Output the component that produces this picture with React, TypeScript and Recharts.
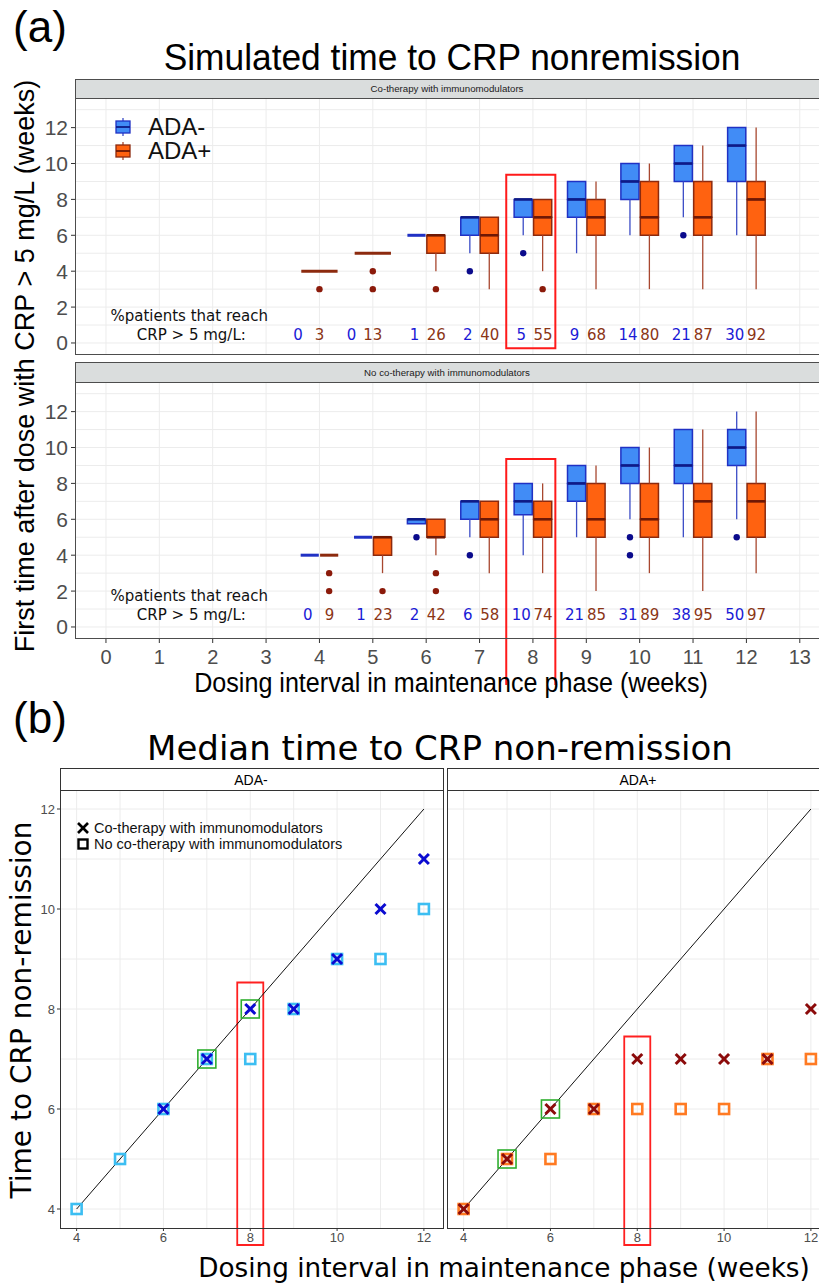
import React from 'react';
import { ComposedChart, XAxis, YAxis, CartesianGrid, ReferenceArea, ReferenceLine, Scatter } from 'recharts';

const SANS = "'Liberation Sans', Arial, sans-serif";
const VERD = "'DejaVu Sans', Verdana, sans-serif";

// ---------------- (a) data ----------------
const doses = [4, 5, 6, 7, 8, 9, 10, 11, 12];
const xTicksA = [0, 1, 2, 3, 4, 5, 6, 7, 8, 9, 10, 11, 12, 13];
const yTicksA = [0, 2, 4, 6, 8, 10, 12];
const yGridA = [0, 1, 2, 3, 4, 5, 6, 7, 8, 9, 10, 11, 12, 13];

// box statistics per dosing interval (weeks)
const coNegBoxes = [
  { d: 6, lo: 6, q1: 6, med: 6, q3: 6, hi: 6 },
  { d: 7, lo: 5, q1: 6, med: 7, q3: 7, hi: 7 },
  { d: 8, lo: 6, q1: 7, med: 8, q3: 8, hi: 8 },
  { d: 9, lo: 5, q1: 7, med: 8, q3: 9, hi: 9 },
  { d: 10, lo: 6, q1: 8, med: 9, q3: 10, hi: 10 },
  { d: 11, lo: 7, q1: 9, med: 10, q3: 11, hi: 11 },
  { d: 12, lo: 6, q1: 9, med: 11, q3: 12, hi: 12 },
];
const coPosBoxes = [
  { d: 4, lo: 4, q1: 4, med: 4, q3: 4, hi: 4 },
  { d: 5, lo: 5, q1: 5, med: 5, q3: 5, hi: 5 },
  { d: 6, lo: 4, q1: 5, med: 6, q3: 6, hi: 6 },
  { d: 7, lo: 3, q1: 5, med: 6, q3: 7, hi: 7 },
  { d: 8, lo: 4, q1: 6, med: 7, q3: 8, hi: 8 },
  { d: 9, lo: 3, q1: 6, med: 7, q3: 8, hi: 9 },
  { d: 10, lo: 3, q1: 6, med: 7, q3: 9, hi: 10 },
  { d: 11, lo: 3, q1: 6, med: 7, q3: 9, hi: 11 },
  { d: 12, lo: 3, q1: 6, med: 8, q3: 9, hi: 12 },
];
const noNegBoxes = [
  { d: 4, lo: 4, q1: 4, med: 4, q3: 4, hi: 4 },
  { d: 5, lo: 5, q1: 5, med: 5, q3: 5, hi: 5 },
  { d: 6, lo: 5.75, q1: 5.75, med: 6, q3: 6, hi: 6 },
  { d: 7, lo: 5, q1: 6, med: 7, q3: 7, hi: 7 },
  { d: 8, lo: 4, q1: 6.25, med: 7, q3: 8, hi: 8 },
  { d: 9, lo: 5, q1: 7, med: 8, q3: 9, hi: 9 },
  { d: 10, lo: 6, q1: 8, med: 9, q3: 10, hi: 10 },
  { d: 11, lo: 5, q1: 8, med: 9, q3: 11, hi: 11 },
  { d: 12, lo: 6, q1: 9, med: 10, q3: 11, hi: 12 },
];
const noPosBoxes = [
  { d: 4, lo: 4, q1: 4, med: 4, q3: 4, hi: 4 },
  { d: 5, lo: 3, q1: 4, med: 5, q3: 5, hi: 5 },
  { d: 6, lo: 4, q1: 5, med: 5, q3: 6, hi: 6 },
  { d: 7, lo: 3, q1: 5, med: 6, q3: 7, hi: 7 },
  { d: 8, lo: 3, q1: 5, med: 6, q3: 7, hi: 8 },
  { d: 9, lo: 2, q1: 5, med: 6, q3: 8, hi: 9 },
  { d: 10, lo: 3, q1: 5, med: 6, q3: 8, hi: 10 },
  { d: 11, lo: 2, q1: 5, med: 7, q3: 8, hi: 11 },
  { d: 12, lo: 3, q1: 5, med: 7, q3: 8, hi: 12 },
];
const coNegOutliers = [{ d: 7, v: 4 }, { d: 8, v: 5 }, { d: 11, v: 6 }];
const coPosOutliers = [{ d: 4, v: 3 }, { d: 5, v: 4 }, { d: 5, v: 3 }, { d: 6, v: 3 }, { d: 8, v: 3 }];
const noNegOutliers = [{ d: 6, v: 5 }, { d: 7, v: 4 }, { d: 10, v: 5 }, { d: 10, v: 4 }, { d: 12, v: 5 }];
const noPosOutliers = [{ d: 4, v: 3 }, { d: 4, v: 2 }, { d: 5, v: 2 }, { d: 6, v: 3 }, { d: 6, v: 2 }];

const coNegPct = [0, 0, 1, 2, 5, 9, 14, 21, 30];
const coPosPct = [3, 13, 26, 40, 55, 68, 80, 87, 92];
const noNegPct = [0, 1, 2, 6, 10, 21, 31, 38, 50];
const noPosPct = [9, 23, 42, 58, 74, 85, 89, 95, 97];

// ---------------- (b) data ----------------
const bDoses = [4, 5, 6, 7, 8, 9, 10, 11, 12];
const bTicks = [4, 6, 8, 10, 12];
const bGrid = [4, 5, 6, 7, 8, 9, 10, 11, 12];
const negCoMedian = [null, null, 6, 7, 8, 8, 9, 10, 11];
const negNoMedian = [4, 5, 6, 7, 7, 8, 9, 9, 10];
const posCoMedian = [4, 5, 6, 6, 7, 7, 7, 7, 8];
const posNoMedian = [4, 5, 5, 6, 6, 6, 6, 7, 7];
const negHighlighted = [7, 8];
const posHighlighted = [5, 6];
const focusDose = 8;

// ---------------- styles ----------------
const BLUE = { fill: '#418cf6', stroke: '#2031c4', median: '#0e1a86', whisker: '#3b4cc6', dot: '#0b0b8c', text: '#1a1ad6' };
const RED = { fill: '#ff6210', stroke: '#8c2a0e', median: '#6e1805', whisker: '#a8472f', dot: '#8b1a0a', text: '#8b3516' };
const A_X: [number, number] = [-0.58, 13.36];
const A_Y: [number, number] = [-0.67, 13.65];
const B_X: [number, number] = [3.617, 12.44];
const B_Y: [number, number] = [3.62, 12.38];
const BOX_W = 0.34;
const GAP = 0.012;

function boxSpan(d: number, side: number, solo: boolean): [number, number] {
  if (solo) return [d - BOX_W, d + BOX_W];
  return side < 0 ? [d - GAP - BOX_W, d - GAP] : [d + GAP, d + GAP + BOX_W];
}

function buildBoxes(boxes: any[], others: any[], side: number, col: any, key: string) {
  const areas: any[] = [];
  const lines: any[] = [];
  boxes.forEach((b) => {
    const solo = !others.some((o) => o.d === b.d);
    const [x1, x2] = boxSpan(b.d, side, solo);
    const xc = (x1 + x2) / 2;
    const k = `${key}-${b.d}`;
    if (b.lo < b.q1)
      lines.push(<ReferenceLine key={k + 'wl'} segment={[{ x: xc, y: b.lo }, { x: xc, y: b.q1 }]} stroke={col.whisker} strokeWidth={1.3} />);
    if (b.hi > b.q3)
      lines.push(<ReferenceLine key={k + 'wh'} segment={[{ x: xc, y: b.q3 }, { x: xc, y: b.hi }]} stroke={col.whisker} strokeWidth={1.3} />);
    if (b.med > b.q1)
      areas.push(<ReferenceArea key={k + 'a1'} x1={x1} x2={x2} y1={b.q1} y2={b.med} fill={col.fill} fillOpacity={1} stroke={col.stroke} strokeWidth={1.5} />);
    if (b.q3 > b.med)
      areas.push(<ReferenceArea key={k + 'a2'} x1={x1} x2={x2} y1={b.med} y2={b.q3} fill={col.fill} fillOpacity={1} stroke={col.stroke} strokeWidth={1.5} />);
    const flat = b.q3 === b.q1;
    lines.push(
      <ReferenceLine key={k + 'm'} segment={[{ x: x1, y: b.med }, { x: x2, y: b.med }]} stroke={flat ? col.stroke : col.median} strokeWidth={flat ? 3 : 2.6} />
    );
  });
  return { areas, lines };
}

function outlierData(out: any[], others: any[], side: number) {
  return out.map((o) => {
    const solo = !others.some((b) => b.d === o.d);
    const [x1, x2] = boxSpan(o.d, side, solo);
    return { x: (x1 + x2) / 2, y: o.v };
  });
}

const dotShape = (color: string) => (p: any) => <circle cx={p.cx} cy={p.cy} r={3.2} fill={color} />;
const textShape = (color: string, size: number) => (p: any) => (
  <text x={p.cx} y={p.cy} textAnchor="middle" dominantBaseline="central" fontFamily={VERD} fontSize={size} fill={color}>
    {p.payload.t}
  </text>
);

function BoxPanel(props: any) {
  const { negBoxes, posBoxes, negOut, posOut, negPct, posPct, pctY, noteY, hl, showX } = props;
  const PANEL_H = 257;
  const chartH = PANEL_H + (showX ? 46 : 0);
  const neg = buildBoxes(negBoxes, posBoxes, -1, BLUE, 'n');
  const pos = buildBoxes(posBoxes, negBoxes, 1, RED, 'p');
  const hasNeg = (d: number) => negBoxes.some((b: any) => b.d === d);
  const negLabels = doses.map((d, i) => ({ x: hasNeg(d) ? d - 0.22 : d - 0.4, y: pctY, t: negPct[i] }));
  const posLabels = doses.map((d, i) => ({ x: hasNeg(d) ? d + 0.19 : d, y: pctY, t: posPct[i] }));
  const noteData = [
    { x: 1.56, y: noteY[0], t: '%patients that reach' },
    { x: 1.6, y: noteY[1], t: 'CRP > 5 mg/L:' },
  ];
  const tickStyle = { fontSize: 20, fontFamily: SANS, fill: '#4d4d4d' };
  return (
    <ComposedChart width={819} height={chartH} margin={{ top: 0, right: 0, bottom: 0, left: 0 }}>
      <CartesianGrid stroke="#ececec" strokeWidth={1} verticalValues={xTicksA} horizontalValues={yGridA} />
      <XAxis type="number" dataKey="x" domain={A_X} ticks={xTicksA} allowDataOverflow interval={0} hide={!showX}
        height={46} tick={tickStyle} tickSize={4} tickMargin={7} tickLine={{ stroke: '#333' }} axisLine={false} />
      <YAxis type="number" dataKey="y" domain={A_Y} ticks={yTicksA} allowDataOverflow interval={0} width={75}
        tick={{ ...tickStyle, fontSize: 21 }} tickSize={4} tickMargin={3} tickLine={{ stroke: '#333' }} axisLine={false} />
      {neg.areas}
      {pos.areas}
      {neg.lines}
      {pos.lines}
      <ReferenceArea x1={7.5} x2={8.42} y1={hl[0]} y2={hl[1]} fill="none" fillOpacity={0} stroke="#ff1a1a" strokeWidth={2} ifOverflow="visible" />
      <Scatter data={outlierData(negOut, posBoxes, -1)} dataKey="y" isAnimationActive={false} shape={dotShape(BLUE.dot)} />
      <Scatter data={outlierData(posOut, negBoxes, 1)} dataKey="y" isAnimationActive={false} shape={dotShape(RED.dot)} />
      <Scatter data={negLabels} dataKey="y" isAnimationActive={false} shape={textShape(BLUE.text, 15)} />
      <Scatter data={posLabels} dataKey="y" isAnimationActive={false} shape={textShape(RED.text, 15)} />
      <Scatter data={noteData} dataKey="y" isAnimationActive={false} shape={textShape('#111', 15)} />
    </ComposedChart>
  );
}

const crossShape = (color: string) => (p: any) => (
  <g stroke={color} strokeWidth={3}>
    <line x1={p.cx - 5} y1={p.cy - 5} x2={p.cx + 5} y2={p.cy + 5} />
    <line x1={p.cx - 5} y1={p.cy + 5} x2={p.cx + 5} y2={p.cy - 5} />
  </g>
);
const squareShape = (color: string) => (p: any) => (
  <rect x={p.cx - 5} y={p.cy - 5} width={10} height={10} fill="none" stroke={color} strokeWidth={2.6} />
);
const greenShape = (p: any) => (
  <rect x={p.cx - 9} y={p.cy - 9} width={18} height={18} fill="none" stroke="#2fae2f" strokeWidth={1.6} />
);

function MedianPanel(props: any) {
  const { showY, coMed, noMed, coColor, noColor, highlighted, hlTop } = props;
  const plotW = 383;
  const yW = showY ? 60 : 0;
  const coData = bDoses.map((d, i) => ({ x: d, y: coMed[i] })).filter((r) => r.y !== null);
  const noData = bDoses.map((d, i) => ({ x: d, y: noMed[i] }));
  const hlData = highlighted.map((d: number) => ({ x: d, y: coMed[bDoses.indexOf(d)] }));
  const tickStyle = { fontSize: 13, fontFamily: SANS, fill: '#4d4d4d' };
  return (
    <ComposedChart width={plotW + yW} height={438 + 26} margin={{ top: 0, right: 0, bottom: 0, left: 0 }}>
      <CartesianGrid stroke="#ececec" strokeWidth={1} verticalValues={bGrid} horizontalValues={bGrid} />
      <XAxis type="number" dataKey="x" domain={B_X} ticks={bTicks} allowDataOverflow interval={0} height={26}
        tick={tickStyle} tickSize={3} tickMargin={2} tickLine={{ stroke: '#333' }} axisLine={false} />
      <YAxis type="number" dataKey="y" domain={B_Y} ticks={bTicks} allowDataOverflow interval={0} width={60} hide={!showY}
        tick={tickStyle} tickSize={3} tickMargin={2} tickLine={{ stroke: '#333' }} axisLine={false} />
      <ReferenceLine segment={[{ x: 4, y: 4 }, { x: 12, y: 12 }]} stroke="#111" strokeWidth={1} />
      <ReferenceArea x1={focusDose - 0.3} x2={focusDose + 0.3} y1={3.28} y2={hlTop} fill="none" fillOpacity={0}
        stroke="#ff2020" strokeWidth={1.8} ifOverflow="visible" />
      <Scatter data={noData} dataKey="y" isAnimationActive={false} shape={squareShape(noColor)} />
      <Scatter data={coData} dataKey="y" isAnimationActive={false} shape={crossShape(coColor)} />
      <Scatter data={hlData} dataKey="y" isAnimationActive={false} shape={greenShape} />
    </ComposedChart>
  );
}

function Txt(props: any) {
  const { x, y, size, family, rotate, sx, color, children, weight } = props;
  const tr = `translate(-50%,-50%)${rotate ? ' rotate(-90deg)' : ''}${sx ? ` scaleX(${sx})` : ''}`;
  return (
    <div style={{ position: 'absolute', left: x, top: y, transform: tr, fontSize: size, fontFamily: family, whiteSpace: 'nowrap', lineHeight: 1, color: color || '#000', fontWeight: weight || 'normal' }}>
      {children}
    </div>
  );
}

function Box(props: any) {
  const { left, top, width, height, bg, border } = props;
  return (
    <div style={{ position: 'absolute', left, top, width, height, boxSizing: 'border-box', background: bg || 'transparent', border: `1px solid ${border || '#4d4d4d'}`, pointerEvents: 'none' }} />
  );
}

function LegendA() {
  const icon = (c: any, y: number) => (
    <g>
      <line x1={8} x2={8} y1={y - 9} y2={y + 9} stroke={c.whisker} strokeWidth={1.3} />
      <rect x={1} y={y - 6} width={14} height={12} fill={c.fill} stroke={c.stroke} strokeWidth={1.3} />
      <line x1={1} x2={15} y1={y} y2={y} stroke={c.median} strokeWidth={1.8} />
    </g>
  );
  const lab = (t: string, top: number) => (
    <div style={{ position: 'absolute', left: 33, top, height: 24, fontFamily: SANS, fontSize: 24, lineHeight: '24px', color: '#111', whiteSpace: 'nowrap' }}>{t}</div>
  );
  return (
    <div style={{ position: 'absolute', left: 115, top: 115 }}>
      <svg width={20} height={52} style={{ position: 'absolute', left: 0, top: 0 }}>
        {icon(BLUE, 12)}
        {icon(RED, 36)}
      </svg>
      {lab('ADA-', 0)}
      {lab('ADA+', 24)}
    </div>
  );
}

function LegendB() {
  const lab = (t: string, top: number) => (
    <div style={{ position: 'absolute', left: 18, top, height: 16, fontFamily: SANS, fontSize: 14.5, lineHeight: '16px', color: '#111', whiteSpace: 'nowrap' }}>{t}</div>
  );
  return (
    <div style={{ position: 'absolute', left: 76, top: 819 }}>
      <svg width={20} height={36} style={{ position: 'absolute', left: 0, top: 0 }}>
        <g stroke="#000" strokeWidth={2.6}>
          <line x1={2} y1={4} x2={12} y2={14} />
          <line x1={2} y1={14} x2={12} y2={4} />
        </g>
        <rect x={2.5} y={20.5} width={9} height={9} fill="none" stroke="#000" strokeWidth={2.4} />
      </svg>
      {lab('Co-therapy with immunomodulators', 1)}
      {lab('No co-therapy with immunomodulators', 17)}
    </div>
  );
}

export default function App() {
  return (
    <div style={{ position: 'absolute', left: 0, top: 0, width: 819, height: 1283, background: '#fff', overflow: 'hidden' }}>
      {/* ---------- (a) ---------- */}
      <Txt x={40} y={27} size={44} family={SANS}>(a)</Txt>
      <Txt x={452} y={57} size={37} family={SANS} sx={0.955}>Simulated time to CRP nonremission</Txt>
      <Txt x={25} y={366} size={27} family={SANS} rotate>First time after dose with CRP &gt; 5 mg/L (weeks)</Txt>

      <Box left={75} top={79} width={750} height={20} bg="#dadddd" />
      <Txt x={447} y={89} size={9.7} family={SANS} color="#1a1a1a">Co-therapy with immunomodulators</Txt>
      <div style={{ position: 'absolute', left: 0, top: 98 }}>
        <BoxPanel negBoxes={coNegBoxes} posBoxes={coPosBoxes} negOut={coNegOutliers} posOut={coPosOutliers}
          negPct={coNegPct} posPct={coPosPct} pctY={0.45} noteY={[1.5, 0.45]} hl={[-0.3, 9.37]} showX={false} />
      </div>
      <Box left={75} top={98} width={750} height={257} />
      <LegendA />

      <Box left={75} top={362} width={750} height={21} bg="#dadddd" />
      <Txt x={447} y={372.5} size={9.7} family={SANS} color="#1a1a1a">No co-therapy with immunomodulators</Txt>
      <div style={{ position: 'absolute', left: 0, top: 382 }}>
        <BoxPanel negBoxes={noNegBoxes} posBoxes={noPosBoxes} negOut={noNegOutliers} posOut={noPosOutliers}
          negPct={noNegPct} posPct={noPosPct} pctY={0.67} noteY={[1.73, 0.67]} hl={[-3.3, 9.36]} showX={true} />
      </div>
      <Box left={75} top={382} width={750} height={257} />
      <Txt x={451} y={683} size={27} family={SANS} sx={0.93}>Dosing interval in maintenance phase (weeks)</Txt>

      {/* ---------- (b) ---------- */}
      <Txt x={40} y={718} size={44} family={SANS}>(b)</Txt>
      <Txt x={440} y={748} size={34} family={VERD}>Median time to CRP non-remission</Txt>
      <Txt x={22} y={1010} size={28} family={VERD} rotate>Time to CRP non-remission</Txt>

      <Box left={60} top={768} width={384} height={23} bg="#fff" border="#333" />
      <Txt x={251} y={779.5} size={14} family={SANS}>ADA-</Txt>
      <Box left={447} top={768} width={384} height={23} bg="#fff" border="#333" />
      <Txt x={638} y={779.5} size={14} family={SANS}>ADA+</Txt>

      <div style={{ position: 'absolute', left: 0, top: 790 }}>
        <MedianPanel showY coMed={negCoMedian} noMed={negNoMedian} coColor="#0a0ad0" noColor="#3cbef2"
          highlighted={negHighlighted} hlTop={8.53} />
      </div>
      <div style={{ position: 'absolute', left: 447, top: 790 }}>
        <MedianPanel showY={false} coMed={posCoMedian} noMed={posNoMedian} coColor="#8b0a0a" noColor="#ff7a22"
          highlighted={posHighlighted} hlTop={7.45} />
      </div>
      <Box left={60} top={790} width={384} height={439} border="#333" />
      <Box left={447} top={790} width={384} height={439} border="#333" />
      <LegendB />
      <Txt x={504} y={1268} size={26.3} family={VERD}>Dosing interval in maintenance phase (weeks)</Txt>
    </div>
  );
}
